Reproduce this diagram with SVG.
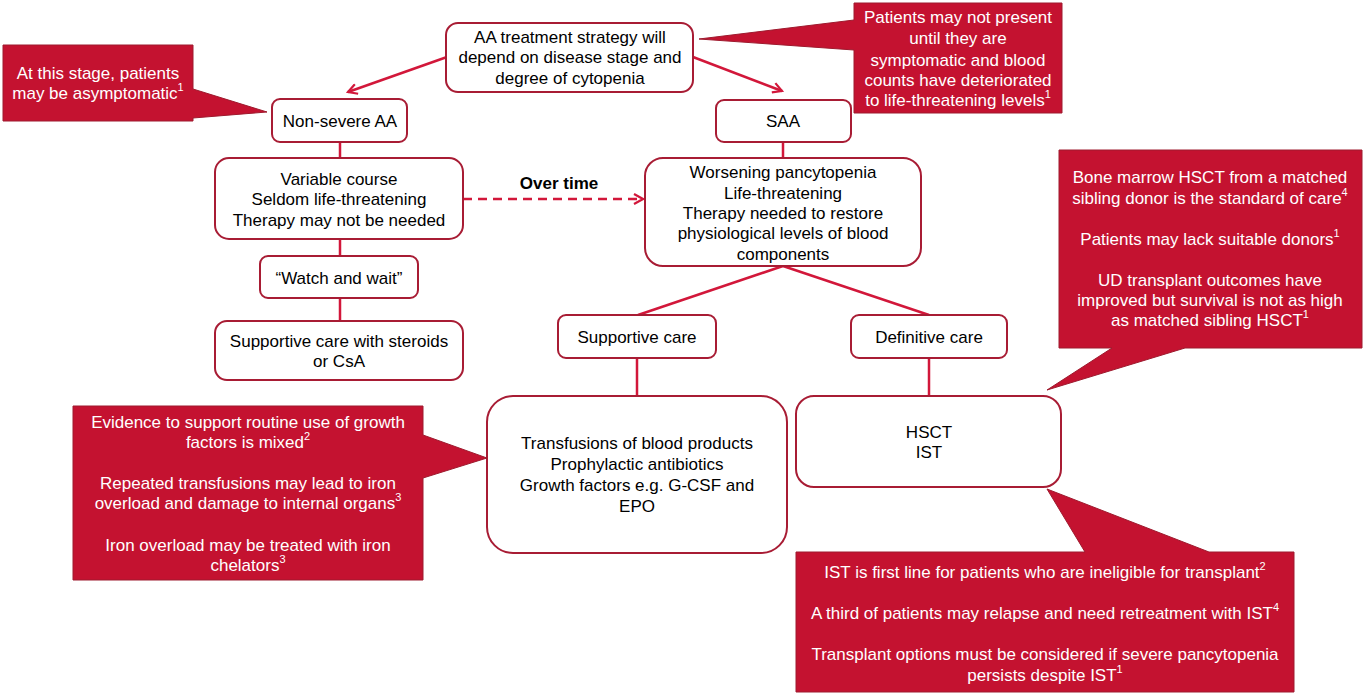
<svg xmlns="http://www.w3.org/2000/svg" width="1363" height="695" viewBox="0 0 1363 695">
<defs>
<style>
text{font-family:"Liberation Sans",Arial,sans-serif;font-size:17px;text-anchor:middle;dominant-baseline:central}
.n{fill:#000}
.w{fill:#fff}
.node{fill:#fff;stroke:#A81C34;stroke-width:2}
.co{fill:#C41230;stroke:#9E1A2E;stroke-width:1}
.ln{stroke:#D2173A;stroke-width:2.5;fill:none}
.sup{font-size:11px}
</style>
<marker id="ah" viewBox="0 0 12 12" refX="10" refY="6" markerWidth="12" markerHeight="12" markerUnits="userSpaceOnUse" orient="auto">
<path d="M1,1 L10,6 L1,11" fill="none" stroke="#D2173A" stroke-width="2.2"/>
</marker>
</defs>
<rect width="1363" height="695" fill="#fff"/>

<g id="connectors">
<line class="ln" x1="447" y1="57" x2="348" y2="92" marker-end="url(#ah)"/>
<line class="ln" x1="693" y1="57" x2="782" y2="91" marker-end="url(#ah)"/>
<line class="ln" x1="340" y1="142" x2="340" y2="158"/>
<line class="ln" x1="340" y1="239" x2="340" y2="256"/>
<line class="ln" x1="340" y1="298" x2="340" y2="321"/>
<line class="ln" x1="783" y1="142" x2="783" y2="158"/>
<line class="ln" x1="463" y1="199" x2="643" y2="199" stroke-dasharray="9,6" marker-end="url(#ah)"/>
<line class="ln" x1="783" y1="266" x2="638" y2="315"/>
<line class="ln" x1="783" y1="266" x2="929" y2="315"/>
<line class="ln" x1="637" y1="358" x2="637" y2="396"/>
<line class="ln" x1="929" y1="358" x2="929" y2="396"/>
<text x="559" y="183" class="n" font-weight="bold">Over time</text>
</g>

<g id="top">
<rect class="node" x="446" y="23" width="247" height="69" rx="12"/>
<text class="n" x="570" y="37">AA treatment strategy will</text>
<text class="n" x="570" y="57">depend on disease stage and</text>
<text class="n" x="570" y="78">degree of cytopenia</text>
</g>

<g id="nonsevere">
<rect class="node" x="272" y="99" width="135" height="43" rx="8"/>
<text class="n" x="340" y="121">Non-severe AA</text>
</g>

<g id="saa">
<rect class="node" x="716" y="100" width="135" height="42" rx="8"/>
<text class="n" x="783" y="121">SAA</text>
</g>

<g id="variable">
<rect class="node" x="215" y="158" width="248" height="81" rx="14"/>
<text class="n" x="339" y="179">Variable course</text>
<text class="n" x="339" y="199">Seldom life-threatening</text>
<text class="n" x="339" y="220">Therapy may not be needed</text>
</g>

<g id="watch">
<rect class="node" x="260" y="256" width="158" height="42" rx="8"/>
<text class="n" x="339" y="278">“Watch and wait”</text>
</g>

<g id="steroids">
<rect class="node" x="215" y="321" width="248" height="59" rx="12"/>
<text class="n" x="339" y="341">Supportive care with steroids</text>
<text class="n" x="339" y="361">or CsA</text>
</g>

<g id="worsening">
<rect class="node" x="645" y="158" width="276" height="108" rx="18"/>
<text class="n" x="783" y="172">Worsening pancytopenia</text>
<text class="n" x="783" y="193">Life-threatening</text>
<text class="n" x="783" y="213">Therapy needed to restore</text>
<text class="n" x="783" y="233">physiological levels of blood</text>
<text class="n" x="783" y="254">components</text>
</g>

<g id="supportive">
<rect class="node" x="558" y="315" width="158" height="43" rx="8"/>
<text class="n" x="637" y="337">Supportive care</text>
</g>

<g id="definitive">
<rect class="node" x="851" y="315" width="156" height="43" rx="8"/>
<text class="n" x="929" y="337">Definitive care</text>
</g>

<g id="transfusions">
<rect class="node" x="487" y="396" width="300" height="157" rx="26"/>
<text class="n" x="637" y="443">Transfusions of blood products</text>
<text class="n" x="637" y="464">Prophylactic antibiotics</text>
<text class="n" x="637" y="485">Growth factors e.g. G-CSF and</text>
<text class="n" x="637" y="506">EPO</text>
</g>

<g id="hsct">
<rect class="node" x="796" y="396" width="265" height="91" rx="18"/>
<text class="n" x="929" y="432">HSCT</text>
<text class="n" x="929" y="452">IST</text>
</g>

<g id="callout-asymptomatic">
<path class="co" d="M3,45 H193 V89 L267,112 L193,118 V121 H3 Z"/>
<text class="w" x="98" y="73">At this stage, patients</text>
<text class="w" x="98" y="93">may be asymptomatic<tspan class="sup" dy="-6">1</tspan></text>
</g>

<g id="callout-present">
<path class="co" d="M854,3 H1062 V113 H854 V50 L699,39 L854,20 Z"/>
<text class="w" x="958" y="17">Patients may not present</text>
<text class="w" x="958" y="38">until they are</text>
<text class="w" x="958" y="60">symptomatic and blood</text>
<text class="w" x="958" y="80">counts have deteriorated</text>
<text class="w" x="958" y="100">to life-threatening levels<tspan class="sup" dy="-6">1</tspan></text>
</g>

<g id="callout-hsct">
<path class="co" d="M1059,150 H1362 V348 H1185 L1047,390 L1112,348 H1059 Z"/>
<text class="w" x="1210" y="177">Bone marrow HSCT from a matched</text>
<text class="w" x="1210" y="198">sibling donor is the standard of care<tspan class="sup" dy="-6">4</tspan></text>
<text class="w" x="1210" y="239">Patients may lack suitable donors<tspan class="sup" dy="-6">1</tspan></text>
<text class="w" x="1210" y="280">UD transplant outcomes have</text>
<text class="w" x="1210" y="300">improved but survival is not as high</text>
<text class="w" x="1210" y="320">as matched sibling HSCT<tspan class="sup" dy="-6">1</tspan></text>
</g>

<g id="callout-growth">
<path class="co" d="M73,406 H423 V435 L487,458 L423,478 V580 H73 Z"/>
<text class="w" x="248" y="422">Evidence to support routine use of growth</text>
<text class="w" x="248" y="442">factors is mixed<tspan class="sup" dy="-6">2</tspan></text>
<text class="w" x="248" y="483">Repeated transfusions may lead to iron</text>
<text class="w" x="248" y="503">overload and damage to internal organs<tspan class="sup" dy="-6">3</tspan></text>
<text class="w" x="248" y="545">Iron overload may be treated with iron</text>
<text class="w" x="248" y="565">chelators<tspan class="sup" dy="-6">3</tspan></text>
</g>

<g id="callout-ist">
<path class="co" d="M796,552 H1085 L1047,489 L1209,552 H1294 V692 H796 Z"/>
<text class="w" x="1045" y="572">IST is first line for patients who are ineligible for transplant<tspan class="sup" dy="-6">2</tspan></text>
<text class="w" x="1045" y="613">A third of patients may relapse and need retreatment with IST<tspan class="sup" dy="-6">4</tspan></text>
<text class="w" x="1045" y="654">Transplant options must be considered if severe pancytopenia</text>
<text class="w" x="1045" y="675">persists despite IST<tspan class="sup" dy="-6">1</tspan></text>
</g>
</svg>
